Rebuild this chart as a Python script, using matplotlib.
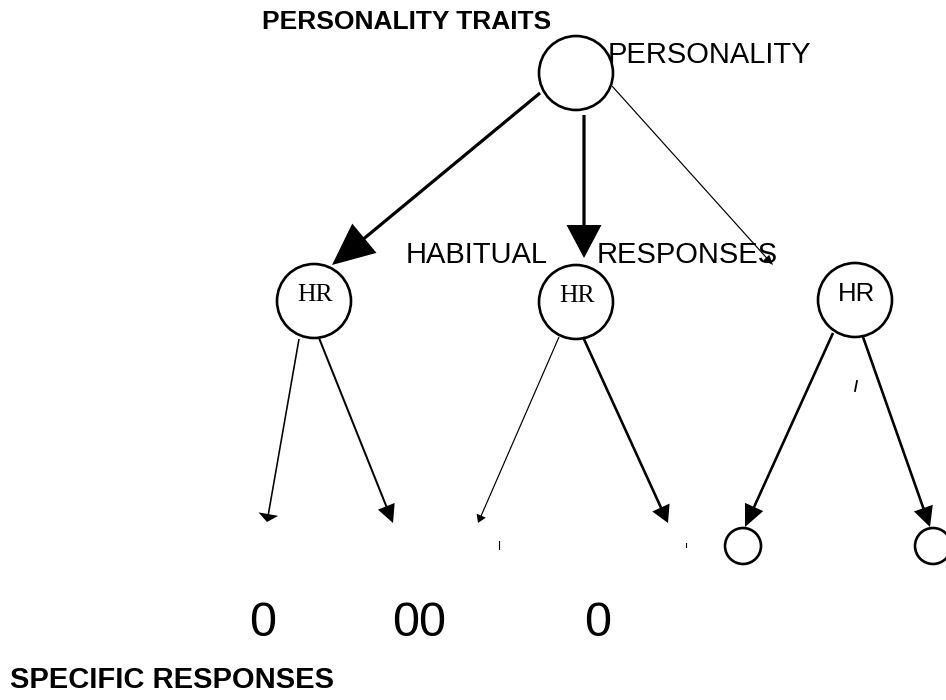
import matplotlib.pyplot as plt
from matplotlib.patches import Circle

# labels
title_top = 'PERSONALITY TRAITS'
title_bottom = 'SPECIFIC RESPONSES'
node_label = 'PERSONALITY'
mid_labels = ['HABITUAL', 'RESPONSES']
hr_labels = ['HR', 'HR', 'HR']
hr_fonts = ['Liberation Serif', 'Liberation Serif', 'Liberation Sans']
zero_labels = ['0', '00', '0']

# node centres (pixel space of the page)
top_node = (576, 73)
hr_nodes = [(314, 301), (576, 302), (855, 300)]
leaf_nodes = [(743, 546), (933, 546)]

# arrows: start, end, shaft width, head width, head length
arrows = [
    ((540, 93), (332, 265), 3.2, 38, 42),
    ((584, 115), (584, 258), 3.2, 35, 33),
    ((612, 86), (773, 265), 1.2, 8, 10),
    ((299, 339), (267, 522), 1.6, 20, 8),
    ((319, 338), (393, 523), 2.0, 18, 18),
    ((559, 337), (478, 523), 1.2, 10, 8),
    ((583, 337), (668, 523), 2.6, 19, 17),
    ((833, 333), (745, 527), 2.6, 20, 22),
    ((863, 337), (930, 527), 2.6, 20, 20),
]

fig = plt.figure(figsize=(9.46, 7.0), dpi=100)
ax = fig.add_axes([0, 0, 1, 1])
ax.set_xlim(0, 946)
ax.set_ylim(700, 0)
ax.axis('off')

# circles
ax.add_patch(Circle(top_node, 37, fill=False, lw=1.9, ec='black'))
for (x, y), lab, fam in zip(hr_nodes, hr_labels, hr_fonts):
    ax.add_patch(Circle((x, y), 37, fill=False, lw=1.9, ec='black'))
    ax.text(x + 1, y - 6, lab, ha='center', va='center', fontsize=18.5,
            family=fam)
for c in leaf_nodes:
    ax.add_patch(Circle(c, 18, fill=False, lw=1.9, ec='black'))

# arrows
for (x0, y0), (x1, y1), w, hw, hl in arrows:
    ax.arrow(x0, y0, x1 - x0, y1 - y0, width=w, head_width=hw,
             head_length=hl, length_includes_head=True, fc='black',
             ec='none')

# stray marks from the scan
ax.plot([499, 499], [541, 549], color='black', lw=0.8)
ax.plot([686, 686], [543, 547], color='black', lw=0.8)
ax.plot([857, 855], [381, 391], color='black', lw=1.3)

# text
ax.text(262, 29, title_top, fontsize=19, fontweight='bold',
        family='Liberation Sans', va='baseline')
ax.text(10, 688, title_bottom, fontsize=21, fontweight='bold',
        family='Liberation Sans', va='baseline')
ax.text(608, 63, node_label, fontsize=21, family='Liberation Sans',
        va='baseline')
ax.text(406, 263, mid_labels[0], fontsize=21, family='Liberation Sans',
        va='baseline')
ax.text(597, 263, mid_labels[1], fontsize=21, family='Liberation Sans',
        va='baseline')
for x, lab in zip([249, 392, 584], zero_labels):
    ax.text(x, 636, lab, fontsize=35, family='Liberation Sans',
            va='baseline')

fig.savefig('out.png', dpi=100)
